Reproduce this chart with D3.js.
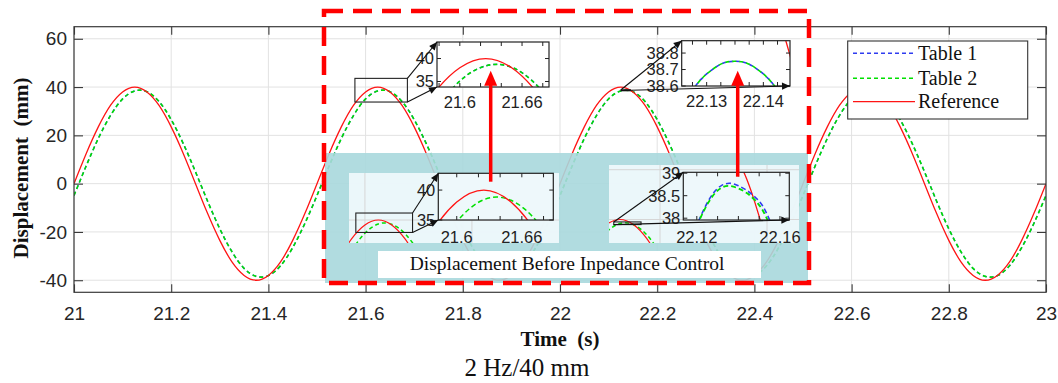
<!DOCTYPE html>
<html>
<head>
<meta charset="utf-8">
<script src="https://cdn.jsdelivr.net/npm/d3@7"></script>
<style>
  html, body { margin: 0; padding: 0; background: #fff; }
  svg { display: block; }
  text { white-space: pre; }
</style>
</head>
<body>
<svg id="chart" width="1058" height="383"></svg>
<script>
// ---------------------------------------------------------------
// Sinusoidal tracking test, 2 Hz / 40 mm, sampled every 25 ms
// between 21 s and 23 s.
// ---------------------------------------------------------------
const sampleStart = 21;
const sampleStep = 0.025;

const referenceMm = [
  0, 12.4, 23.5, 32.4, 38.0, 40.0, 38.0, 32.4, 23.5, 12.4,
  0, -12.4, -23.5, -32.4, -38.0, -40.0, -38.0, -32.4, -23.5, -12.4,
  0, 12.4, 23.5, 32.4, 38.0, 40.0, 38.0, 32.4, 23.5, 12.4,
  0, -12.4, -23.5, -32.4, -38.0, -40.0, -38.0, -32.4, -23.5, -12.4,
  0, 12.4, 23.5, 32.4, 38.0, 40.0, 38.0, 32.4, 23.5, 12.4,
  0, -12.4, -23.5, -32.4, -38.0, -40.0, -38.0, -32.4, -23.5, -12.4,
  0, 12.4, 23.5, 32.4, 38.0, 40.0, 38.0, 32.4, 23.5, 12.4,
  0, -12.4, -23.5, -32.4, -38.0, -40.0, -38.0, -32.4, -23.5, -12.4,
  0
];
const table1Mm = [
  -4.9, 7.3, 18.7, 28.2, 35.1, 38.4, 38.1, 34.0, 26.5, 16.5,
  4.9, -7.3, -18.7, -28.2, -35.1, -38.4, -38.1, -34.0, -26.5, -16.5,
  -4.9, 7.3, 18.7, 28.2, 35.1, 38.4, 38.1, 34.0, 26.5, 16.5,
  4.9, -7.3, -18.7, -28.2, -35.1, -38.4, -38.1, -34.0, -26.5, -16.5,
  -4.9, 7.3, 18.7, 28.2, 35.1, 38.4, 38.1, 34.0, 26.5, 16.5,
  4.9, -7.3, -18.7, -28.2, -35.1, -38.4, -38.1, -34.0, -26.5, -16.5,
  -4.9, 7.3, 18.7, 28.2, 35.1, 38.4, 38.1, 34.0, 26.5, 16.5,
  4.9, -7.3, -18.7, -28.2, -35.1, -38.4, -38.1, -34.0, -26.5, -16.5,
  -4.9
];
const table2Mm = [
  -4.9, 7.3, 18.7, 28.2, 35.1, 38.4, 38.1, 34.0, 26.5, 16.5,
  4.9, -7.3, -18.7, -28.2, -35.1, -38.4, -38.1, -34.0, -26.5, -16.5,
  -4.9, 7.3, 18.7, 28.2, 35.1, 38.4, 38.1, 34.0, 26.5, 16.5,
  4.9, -7.3, -18.7, -28.2, -35.1, -38.4, -38.1, -34.0, -26.5, -16.5,
  -4.9, 7.3, 18.7, 28.2, 35.1, 38.4, 38.1, 34.0, 26.5, 16.5,
  4.9, -7.3, -18.7, -28.2, -35.1, -38.4, -38.1, -34.0, -26.5, -16.5,
  -4.9, 7.3, 18.7, 28.2, 35.1, 38.4, 38.1, 34.0, 26.5, 16.5,
  4.9, -7.3, -18.7, -28.2, -35.1, -38.4, -38.1, -34.0, -26.5, -16.5,
  -4.9
];

// Close-up around the peak near 22.135 s (after impedance control)
const peakAfterTime = [22.125, 22.127, 22.129, 22.131, 22.133, 22.135, 22.137, 22.139, 22.141, 22.143, 22.145];
const peakAfterTable1 = [38.44, 38.55, 38.64, 38.70, 38.74, 38.75, 38.74, 38.70, 38.64, 38.55, 38.44];
const peakAfterTable2 = [38.44, 38.55, 38.64, 38.70, 38.74, 38.75, 38.74, 38.70, 38.64, 38.55, 38.44];

// Reference falling edge just after the 22.125 s peak
const refEdgeTime = [22.138, 22.140, 22.142, 22.144, 22.146, 22.148, 22.150, 22.152, 22.154];
const refEdgeMm = [39.47, 39.29, 39.09, 38.87, 38.62, 38.34, 38.04, 37.72, 37.37];

// Before impedance control
const beforeTimeA = [21.55, 21.575, 21.6, 21.625, 21.65, 21.675, 21.7, 21.725, 21.75];
const beforeTable2A = [17.8, 27.6, 34.7, 38.4, 38.3, 34.5, 27.3, 17.4, 5.8];
const beforeTimeB = [22.05, 22.075, 22.1, 22.125, 22.15, 22.175, 22.2, 22.225];
const beforeTable2B = [18.7, 28.2, 35.0, 38.4, 38.0, 33.9, 26.5, 16.5];
const beforePeakTime = [22.120, 22.124, 22.128, 22.132, 22.136, 22.140, 22.144, 22.148, 22.152, 22.156];
const beforePeakTable1 = [37.85, 38.25, 38.56, 38.73, 38.775, 38.72, 38.62, 38.47, 38.25, 37.85];
const beforePeakTable2 = [37.83, 38.22, 38.515, 38.68, 38.715, 38.66, 38.56, 38.40, 38.15, 37.75];

// Axis ticks
const xTickValues = [21, 21.2, 21.4, 21.6, 21.8, 22, 22.2, 22.4, 22.6, 22.8, 23];
const xTickLabels = ["21", "21.2", "21.4", "21.6", "21.8", "22", "22.2", "22.4", "22.6", "22.8", "23"];
const yTickValues = [-40, -20, 0, 20, 40, 60];
const yTickLabels = ["-40", "-20", "0", "20", "40", "60"];

// Close-up panel ticks
const zoomA_xTicks = [21.58, 21.6, 21.62, 21.64, 21.66, 21.68];
const zoomA_xLabels = [[21.6, "21.6"], [21.66, "21.66"]];
const zoomA_yTicks = [35, 40];
const zoomA_yLabels = [[35, "35"], [40, "40"]];
const zoomB_xTicks = [22.1275, 22.13, 22.1325, 22.135, 22.1375, 22.14, 22.1425];
const zoomB_xLabels = [[22.13, "22.13"], [22.14, "22.14"]];
const zoomB_yTicks = [38.6, 38.7, 38.8];
const zoomB_yLabels = [[38.6, "38.6"], [38.7, "38.7"], [38.8, "38.8"]];
const zoomC_xTicks = [21.6, 21.62, 21.64, 21.66, 21.68];
const zoomC_xLabels = [[21.6, "21.6"], [21.66, "21.66"]];
const zoomC_yTicks = [35, 40];
const zoomC_yLabels = [[35, "35"], [40, "40"]];
const zoomD_xTicks = [22.12, 22.13, 22.14, 22.15, 22.16];
const zoomD_xLabels = [[22.12, "22.12"], [22.16, "22.16"]];
const zoomD_yTicks = [38, 38.5, 39];
const zoomD_yLabels = [[38, "38"], [38.5, "38.5"], [39, "39"]];

const legendLabels = ["Table 1", "Table 2", "Reference"];

// ---------------------------------------------------------------
const time = referenceMm.map((_, i) => +(sampleStart + i * sampleStep).toFixed(3));

const SANS = "'Liberation Sans', Arial, Helvetica, sans-serif";
const SERIF = "'Liberation Serif', 'Times New Roman', serif";
const RED = "#ff1414", GREEN = "#00e000", BLUE = "#2f3cf0";
const AXIS = "#3a3a3a", GRID = "#e2e2e2";

const svg = d3.select("#chart");
const defs = svg.append("defs");
defs.append("marker")
  .attr("id", "blackHead").attr("viewBox", "0 0 10 10")
  .attr("refX", 10).attr("refY", 5)
  .attr("markerWidth", 9).attr("markerHeight", 8)
  .attr("markerUnits", "userSpaceOnUse").attr("orient", "auto")
  .append("path").attr("d", "M0,0.5 L10,5 L0,9.5 Z").attr("fill", "#111");

const plot = { left: 74, right: 1046, top: 26.7, bottom: 292.3 };
const x = d3.scaleLinear().domain([21, 23]).range([plot.left, plot.right]);
const y = d3.scaleLinear().domain([-45, 65]).range([plot.bottom, plot.top]);

let clipCount = 0;
function clipped(g, box) {
  const id = "clip" + (clipCount++);
  defs.append("clipPath").attr("id", id).append("rect")
    .attr("x", box.x).attr("y", box.y).attr("width", box.w).attr("height", box.h);
  return g.append("g").attr("clip-path", `url(#${id})`);
}
function drawSeries(g, sx, sy, layer) {
  const line = d3.line()
    .x((d, i) => sx(layer.t[i]))
    .y(d => sy(d))
    .curve(d3.curveNatural);
  g.append("path").attr("d", line(layer.v))
    .attr("fill", "none").attr("stroke", layer.color)
    .attr("stroke-width", layer.width)
    .attr("stroke-dasharray", layer.dash || null)
    .attr("stroke-dashoffset", layer.offset || 0);
}
function gridLines(g, box, sx, sy, color) {
  xTickValues.forEach(v => g.append("line")
    .attr("x1", sx(v)).attr("x2", sx(v)).attr("y1", box.y).attr("y2", box.y + box.h)
    .attr("stroke", color).attr("stroke-width", 1));
  yTickValues.forEach(v => g.append("line")
    .attr("x1", box.x).attr("x2", box.x + box.w).attr("y1", sy(v)).attr("y2", sy(v))
    .attr("stroke", color).attr("stroke-width", 1));
}
function arrow(g, x1, y1, x2, y2) {
  g.append("line").attr("x1", x1).attr("y1", y1).attr("x2", x2).attr("y2", y2)
    .attr("stroke", "#111").attr("stroke-width", 1.1).attr("marker-end", "url(#blackHead)");
}

// Close-up panel: its own scales, fill, curves, inward ticks and labels
function closeUp(g, box, xDom, yDom, layers, spec) {
  const sx = d3.scaleLinear().domain(xDom).range([box.x, box.x + box.w]);
  const sy = d3.scaleLinear().domain(yDom).range([box.y + box.h, box.y]);
  g.append("rect").attr("x", box.x).attr("y", box.y).attr("width", box.w).attr("height", box.h)
    .attr("fill", spec.fill);
  const inner = clipped(g, box);
  layers.forEach(l => drawSeries(inner, sx, sy, l));
  const tk = g.append("g").attr("stroke", "#222").attr("stroke-width", 1);
  spec.xTicks.forEach(v => {
    tk.append("line").attr("x1", sx(v)).attr("x2", sx(v)).attr("y1", box.y + box.h).attr("y2", box.y + box.h - 4);
    tk.append("line").attr("x1", sx(v)).attr("x2", sx(v)).attr("y1", box.y).attr("y2", box.y + 4);
  });
  spec.yTicks.forEach(v => {
    tk.append("line").attr("x1", box.x).attr("x2", box.x + 4).attr("y1", sy(v)).attr("y2", sy(v));
    tk.append("line").attr("x1", box.x + box.w).attr("x2", box.x + box.w - 4).attr("y1", sy(v)).attr("y2", sy(v));
  });
  g.append("rect").attr("x", box.x).attr("y", box.y).attr("width", box.w).attr("height", box.h)
    .attr("fill", "none").attr("stroke", "#222").attr("stroke-width", 1.2);
  spec.xLabels.forEach(([v, s]) => g.append("text")
    .attr("x", sx(v)).attr("y", box.y + box.h + spec.labelGap)
    .attr("text-anchor", "middle").attr("font-family", SANS).attr("font-size", 16.5)
    .attr("fill", "#222").text(s));
  spec.yLabels.forEach(([v, s]) => g.append("text")
    .attr("x", box.x - 3).attr("y", sy(v)).attr("dy", "0.36em")
    .attr("text-anchor", "end").attr("font-family", SANS).attr("font-size", 16.5)
    .attr("fill", "#222").text(s));
  return { sx, sy };
}

// ---------------- main axes ----------------
const plotBox = { x: plot.left, y: plot.top, w: plot.right - plot.left, h: plot.bottom - plot.top };
gridLines(svg.append("g"), plotBox, x, y, GRID);

const curves = clipped(svg, plotBox);
drawSeries(curves, x, y, { t: time, v: table1Mm, color: BLUE, width: 1.4, dash: "4,3" });
drawSeries(curves, x, y, { t: time, v: table2Mm, color: GREEN, width: 1.6, dash: "4,3" });
drawSeries(curves, x, y, { t: time, v: referenceMm, color: RED, width: 1.3 });

const styleAxis = g => {
  g.select(".domain").remove();
  g.selectAll(".tick line").attr("stroke", AXIS).attr("stroke-width", 1.1);
  g.selectAll(".tick text").attr("font-family", SANS).attr("font-size", 19).attr("fill", "#262626");
};
svg.append("g").attr("transform", `translate(0,${plot.bottom})`)
  .call(d3.axisBottom(x).tickValues(xTickValues).tickFormat((d, i) => xTickLabels[i])
    .tickSizeInner(-8).tickSizeOuter(0).tickPadding(14)).call(styleAxis);
svg.append("g").attr("transform", `translate(0,${plot.top})`)
  .call(d3.axisTop(x).tickValues(xTickValues).tickFormat("")
    .tickSizeInner(-8).tickSizeOuter(0)).call(styleAxis);
svg.append("g").attr("transform", `translate(${plot.left},0)`)
  .call(d3.axisLeft(y).tickValues(yTickValues).tickFormat((d, i) => yTickLabels[i])
    .tickSizeInner(-9).tickSizeOuter(0).tickPadding(7)).call(styleAxis);
svg.append("g").attr("transform", `translate(${plot.right},0)`)
  .call(d3.axisRight(y).tickValues(yTickValues).tickFormat("")
    .tickSizeInner(-9).tickSizeOuter(0)).call(styleAxis);
svg.append("rect").attr("x", plotBox.x).attr("y", plotBox.y).attr("width", plotBox.w).attr("height", plotBox.h)
  .attr("fill", "none").attr("stroke", AXIS).attr("stroke-width", 1.2);

svg.append("text").attr("x", (plot.left + plot.right) / 2).attr("y", 346)
  .attr("text-anchor", "middle").attr("font-family", SERIF).attr("font-weight", "bold")
  .attr("font-size", 21).attr("fill", "#111").text("Time  (s)");
svg.append("text").attr("transform", "translate(28,168) rotate(-90)")
  .attr("text-anchor", "middle").attr("font-family", SERIF).attr("font-weight", "bold")
  .attr("font-size", 21).attr("fill", "#111").text("Displacement  (mm)");
svg.append("text").attr("x", 527).attr("y", 376)
  .attr("text-anchor", "middle").attr("font-family", SERIF)
  .attr("font-size", 25).attr("fill", "#111").text("2 Hz/40 mm");

// ---------------- "before" panel ----------------
const before = svg.append("g");
before.append("rect").attr("x", 325).attr("y", 153).attr("width", 483).attr("height", 130)
  .attr("fill", "#a9d8dd").attr("opacity", 0.9);

// left view (around 21.6 s)
const boxC = { x: 349, y: 173, w: 210, h: 70 };
before.append("rect").attr("x", boxC.x).attr("y", boxC.y).attr("width", boxC.w).attr("height", boxC.h)
  .attr("fill", "#eef8fb").attr("opacity", 0.95);
const cx = d3.scaleLinear().domain([21.625, 21.725]).range([378.3, 431.8]);
const cy = d3.scaleLinear().domain([40, 30]).range([220, 244.9]);
const miniC = clipped(before, boxC);
gridLines(miniC, boxC, cx, cy, "#d6d6d6");
drawSeries(miniC, cx, cy, { t: beforeTimeA, v: beforeTable2A, color: GREEN, width: 1.5, dash: "4,3" });
drawSeries(miniC, cx, cy, { t: time, v: referenceMm, color: RED, width: 1.2 });
const zC = { x: [21.583, 21.689], y: [35, 42.8] };
before.append("rect").attr("x", cx(zC.x[0])).attr("y", cy(zC.y[1]))
  .attr("width", cx(zC.x[1]) - cx(zC.x[0])).attr("height", cy(zC.y[0]) - cy(zC.y[1]))
  .attr("fill", "none").attr("stroke", "#222").attr("stroke-width", 1.1);
const panelC = { x: 438.3, y: 173.3, w: 115, h: 46.7 };
closeUp(before, panelC, zC.x, zC.y, [
  { t: beforeTimeA, v: beforeTable2A, color: GREEN, width: 1.5, dash: "5,3" },
  { t: time, v: referenceMm, color: RED, width: 1.3 }
], { fill: "#eef8fb", xTicks: zoomC_xTicks, xLabels: zoomC_xLabels, yTicks: zoomC_yTicks, yLabels: zoomC_yLabels, labelGap: 22.5 });
arrow(before, cx(zC.x[1]), cy(zC.y[1]), panelC.x, panelC.y);
arrow(before, cx(zC.x[1]), cy(zC.y[0]), panelC.x, panelC.y + panelC.h);

// right view (around 22.13 s)
const boxD = { x: 609, y: 165, w: 190, h: 78 };
before.append("rect").attr("x", boxD.x).attr("y", boxD.y).attr("width", boxD.w).attr("height", boxD.h)
  .attr("fill", "#eef8fb").attr("opacity", 0.95);
const dx = d3.scaleLinear().domain([22.125, 22.225]).range([619.9, 673.4]);
const dy = d3.scaleLinear().domain([40, 30]).range([219.5, 244.4]);
const miniD = clipped(before, boxD);
gridLines(miniD, boxD, dx, dy, "#d6d6d6");
drawSeries(miniD, dx, dy, { t: beforeTimeB, v: beforeTable2B, color: GREEN, width: 1.5, dash: "4,3" });
drawSeries(miniD, dx, dy, { t: time, v: referenceMm, color: RED, width: 1.2 });
const zD = { x: [22.1135, 22.1645], y: [37.96, 39.02] };
before.append("rect").attr("x", dx(zD.x[0])).attr("y", dy(zD.y[1]))
  .attr("width", dx(zD.x[1]) - dx(zD.x[0])).attr("height", dy(zD.y[0]) - dy(zD.y[1]))
  .attr("fill", "none").attr("stroke", "#222").attr("stroke-width", 1.1);
const panelD = { x: 683.3, y: 172.3, w: 106, h: 47.7 };
closeUp(before, panelD, zD.x, zD.y, [
  { t: refEdgeTime, v: refEdgeMm, color: RED, width: 1.3 },
  { t: beforePeakTime, v: beforePeakTable1, color: BLUE, width: 1.6, dash: "5,3", offset: 4 },
  { t: beforePeakTime, v: beforePeakTable2, color: GREEN, width: 1.8, dash: "5,3" }
], { fill: "#eef8fb", xTicks: zoomD_xTicks, xLabels: zoomD_xLabels, yTicks: zoomD_yTicks, yLabels: zoomD_yLabels, labelGap: 22.5 });
arrow(before, dx(zD.x[0]), dy(zD.y[1]), panelD.x, panelD.y);
arrow(before, dx(zD.x[0]), dy(zD.y[0]), panelD.x + panelD.w, panelD.y + panelD.h);

before.append("rect").attr("x", 378).attr("y", 251).attr("width", 383).attr("height", 27).attr("fill", "#fff");
before.append("text").attr("x", 567).attr("y", 270).attr("text-anchor", "middle")
  .attr("font-family", SERIF).attr("font-size", 19.5).attr("fill", "#111")
  .text("Displacement Before Inpedance Control");

// ---------------- close-ups on the main curves ----------------
const zooms = svg.append("g");
const zA = { x: [21.578, 21.686], y: [33.8, 43.6] };
zooms.append("rect").attr("x", x(zA.x[0])).attr("y", y(zA.y[1]))
  .attr("width", x(zA.x[1]) - x(zA.x[0])).attr("height", y(zA.y[0]) - y(zA.y[1]))
  .attr("fill", "none").attr("stroke", "#222").attr("stroke-width", 1.1);
const panelA = { x: 437, y: 42, w: 112, h: 45 };
closeUp(zooms, panelA, zA.x, zA.y, [
  { t: time, v: table1Mm, color: BLUE, width: 1.4, dash: "4,3" },
  { t: time, v: table2Mm, color: GREEN, width: 1.6, dash: "4,3" },
  { t: time, v: referenceMm, color: RED, width: 1.3 }
], { fill: "#fff", xTicks: zoomA_xTicks, xLabels: zoomA_xLabels, yTicks: zoomA_yTicks, yLabels: zoomA_yLabels, labelGap: 20.5 });
arrow(zooms, x(zA.x[1]), y(zA.y[1]), panelA.x, panelA.y);
arrow(zooms, x(zA.x[1]), y(zA.y[0]), panelA.x, panelA.y + panelA.h);

const zB = { x: [22.1256, 22.1447], y: [38.6, 38.875] };
zooms.append("rect").attr("x", x(zB.x[0])).attr("y", y(zB.y[1]))
  .attr("width", x(zB.x[1]) - x(zB.x[0])).attr("height", Math.max(1, y(zB.y[0]) - y(zB.y[1])))
  .attr("fill", "none").attr("stroke", "#222").attr("stroke-width", 1.1);
const panelB = { x: 681.7, y: 40.7, w: 108.3, h: 45.3 };
closeUp(zooms, panelB, zB.x, zB.y, [
  { t: refEdgeTime, v: refEdgeMm, color: RED, width: 1.3 },
  { t: peakAfterTime, v: peakAfterTable1, color: BLUE, width: 1.6, dash: "4,3", offset: 3.5 },
  { t: peakAfterTime, v: peakAfterTable2, color: GREEN, width: 1.6, dash: "4,3" }
], { fill: "#fff", xTicks: zoomB_xTicks, xLabels: zoomB_xLabels, yTicks: zoomB_yTicks, yLabels: zoomB_yLabels, labelGap: 20.5 });
arrow(zooms, x(zB.x[0]), y(zB.y[1]), panelB.x, panelB.y);
arrow(zooms, x(zB.x[0]), y(zB.y[0]), panelB.x + panelB.w, panelB.y + panelB.h);

// ---------------- legend ----------------
const legend = svg.append("g");
legend.append("rect").attr("x", 847.7).attr("y", 41).attr("width", 180).attr("height", 78)
  .attr("fill", "#fff").attr("stroke", "#333").attr("stroke-width", 1.1);
const legendStyle = [
  { color: BLUE, dash: "4,3", width: 1.4 },
  { color: GREEN, dash: "4,3", width: 1.6 },
  { color: RED, dash: null, width: 1.3 }
];
const legendRows = [53.3, 78.3, 101.7];
legendLabels.forEach((lab, i) => {
  legend.append("line").attr("x1", 853).attr("x2", 915).attr("y1", legendRows[i]).attr("y2", legendRows[i])
    .attr("stroke", legendStyle[i].color).attr("stroke-width", legendStyle[i].width)
    .attr("stroke-dasharray", legendStyle[i].dash);
  legend.append("text").attr("x", 918).attr("y", legendRows[i] + 6.5)
    .attr("font-family", SERIF).attr("font-size", 20).attr("fill", "#111").text(lab);
});

// ---------------- highlight frame and link arrows ----------------
svg.append("rect").attr("x", 324).attr("y", 11).attr("width", 485).attr("height", 272)
  .attr("fill", "none").attr("stroke", "#ff0000").attr("stroke-width", 4.5)
  .attr("stroke-dasharray", "19,10");

function redArrow(ax, yFrom, yTip) {
  svg.append("line").attr("x1", ax).attr("x2", ax).attr("y1", yFrom).attr("y2", yTip + 12)
    .attr("stroke", "#ff0000").attr("stroke-width", 3.5);
  svg.append("path").attr("d", `M${ax},${yTip} L${ax - 6.5},${yTip + 15} L${ax + 6.5},${yTip + 15} Z`)
    .attr("fill", "#ff0000");
}
redArrow(490.7, 181.7, 70.7);
redArrow(737.7, 176.7, 70.7);
</script>
</body>
</html>
